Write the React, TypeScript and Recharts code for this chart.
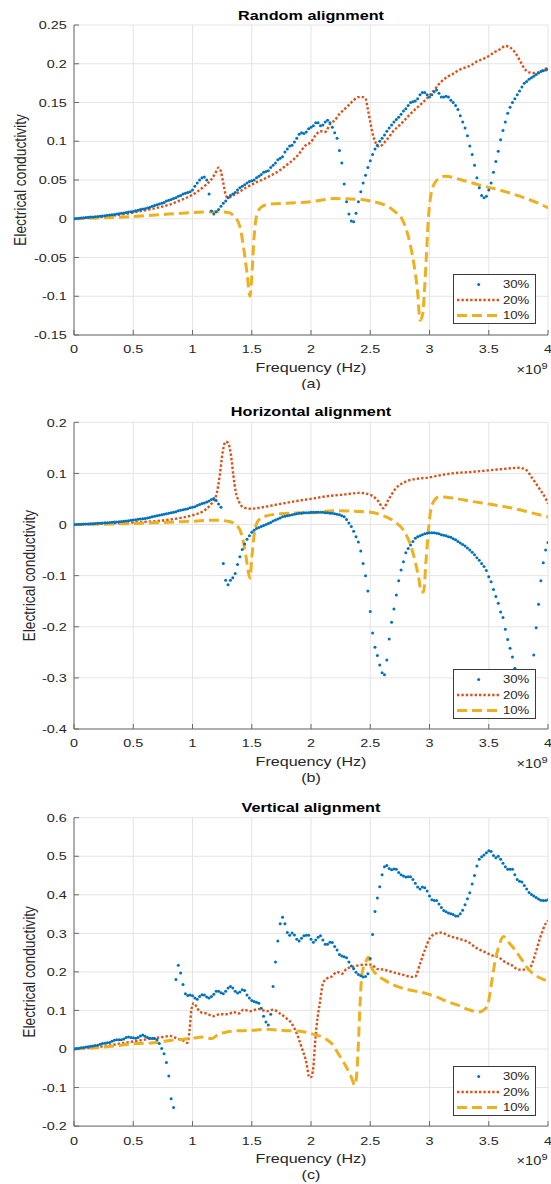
import React from 'react';
import { LineChart, Line, XAxis, YAxis, CartesianGrid, Legend } from 'recharts';

const FONT = '"Liberation Sans", Arial, Helvetica, sans-serif';
const BLUE = '#0072BD';
const ORANGE = '#D95319';
const YELLOW = '#EDB120';
const SX = 1.22;

const FREQ = [
  0, 0.02, 0.04, 0.06, 0.08, 0.1, 0.12, 0.14, 0.16, 0.18,
  0.2, 0.22, 0.24, 0.26, 0.28, 0.3, 0.32, 0.34, 0.36, 0.38,
  0.4, 0.42, 0.44, 0.46, 0.48, 0.5, 0.52, 0.54, 0.56, 0.58,
  0.6, 0.62, 0.64, 0.66, 0.68, 0.7, 0.72, 0.74, 0.76, 0.78,
  0.8, 0.82, 0.84, 0.86, 0.88, 0.9, 0.92, 0.94, 0.96, 0.98,
  1, 1.02, 1.04, 1.06, 1.08, 1.1, 1.12, 1.14, 1.16, 1.18,
  1.2, 1.22, 1.24, 1.26, 1.28, 1.3, 1.32, 1.34, 1.36, 1.38,
  1.4, 1.42, 1.44, 1.46, 1.48, 1.5, 1.52, 1.54, 1.56, 1.58,
  1.6, 1.62, 1.64, 1.66, 1.68, 1.7, 1.72, 1.74, 1.76, 1.78,
  1.8, 1.82, 1.84, 1.86, 1.88, 1.9, 1.92, 1.94, 1.96, 1.98,
  2, 2.02, 2.04, 2.06, 2.08, 2.1, 2.12, 2.14, 2.16, 2.18,
  2.2, 2.22, 2.24, 2.26, 2.28, 2.3, 2.32, 2.34, 2.36, 2.38,
  2.4, 2.42, 2.44, 2.46, 2.48, 2.5, 2.52, 2.54, 2.56, 2.58,
  2.6, 2.62, 2.64, 2.66, 2.68, 2.7, 2.72, 2.74, 2.76, 2.78,
  2.8, 2.82, 2.84, 2.86, 2.88, 2.9, 2.92, 2.94, 2.96, 2.98,
  3, 3.02, 3.04, 3.06, 3.08, 3.1, 3.12, 3.14, 3.16, 3.18,
  3.2, 3.22, 3.24, 3.26, 3.28, 3.3, 3.32, 3.34, 3.36, 3.38,
  3.4, 3.42, 3.44, 3.46, 3.48, 3.5, 3.52, 3.54, 3.56, 3.58,
  3.6, 3.62, 3.64, 3.66, 3.68, 3.7, 3.72, 3.74, 3.76, 3.78,
  3.8, 3.82, 3.84, 3.86, 3.88, 3.9, 3.92, 3.94, 3.96, 3.98,
  4,
];

const X_TICKS = [0, 0.5, 1, 1.5, 2, 2.5, 3, 3.5, 4];
const Y_TICKS_A = [-0.15, -0.1, -0.05, 0, 0.05, 0.1, 0.15, 0.2, 0.25];
const Y_TICKS_B = [-0.4, -0.3, -0.2, -0.1, 0, 0.1, 0.2];
const Y_TICKS_C = [-0.2, -0.1, 0, 0.1, 0.2, 0.3, 0.4, 0.5, 0.6];
const SERIES_NAMES = ['30%', '20%', '10%'];

// ---------- (a) Random alignment ----------
const A30 = [
  0, 0.0003, 0.0006, 0.0009, 0.0012, 0.0015, 0.0018, 0.0021, 0.0024, 0.0027,
  0.003, 0.0033, 0.0037, 0.004, 0.0044, 0.0048, 0.0052, 0.0056, 0.006, 0.0065,
  0.007, 0.0075, 0.008, 0.0086, 0.009, 0.0095, 0.0102, 0.011, 0.0118, 0.0125,
  0.013, 0.014, 0.015, 0.016, 0.017, 0.018, 0.019, 0.02, 0.021, 0.023,
  0.024, 0.025, 0.026, 0.027, 0.029, 0.03, 0.032, 0.033, 0.034, 0.035,
  0.037, 0.042, 0.046, 0.05, 0.053, 0.054, 0.05, 0.032, 0.01, 0.006,
  0.009, 0.012, 0.016, 0.02, 0.023, 0.027, 0.03, 0.032, 0.034, 0.037,
  0.04, 0.042, 0.044, 0.046, 0.048, 0.049, 0.05, 0.053, 0.055, 0.057,
  0.06, 0.061, 0.062, 0.066, 0.069, 0.072, 0.076, 0.078, 0.08, 0.086,
  0.09, 0.094, 0.095, 0.099, 0.104, 0.109, 0.111, 0.11, 0.112, 0.116,
  0.118, 0.12, 0.124, 0.124, 0.12, 0.121, 0.125, 0.127, 0.124, 0.118,
  0.111, 0.104, 0.088, 0.072, 0.045, 0.022, 0.006, -0.003, -0.004, 0.007,
  0.022, 0.035, 0.046, 0.056, 0.066, 0.075, 0.083, 0.09, 0.095, 0.1,
  0.104, 0.108, 0.113, 0.117, 0.121, 0.125, 0.128, 0.131, 0.135, 0.139,
  0.142, 0.146, 0.15, 0.151, 0.152, 0.155, 0.16, 0.163, 0.163, 0.16,
  0.157, 0.16, 0.164, 0.166, 0.162, 0.157, 0.157, 0.158, 0.157, 0.153,
  0.15, 0.146, 0.141, 0.133, 0.125, 0.117, 0.107, 0.094, 0.083, 0.069,
  0.053, 0.04, 0.03, 0.027, 0.029, 0.037, 0.046, 0.06, 0.074, 0.087,
  0.102, 0.114, 0.125, 0.136, 0.144, 0.15, 0.155, 0.16, 0.165, 0.17,
  0.175, 0.177, 0.18, 0.182, 0.184, 0.186, 0.188, 0.19, 0.191, 0.192,
  0.193,
];
const A20_F = [
  0, 0.1, 0.2, 0.3, 0.4, 0.5, 0.6, 0.7, 0.8, 0.9, 1, 1.05, 1.1, 1.15, 1.19, 1.22, 1.24, 1.26,
  1.28, 1.3, 1.34, 1.4, 1.45, 1.5, 1.55, 1.6, 1.65, 1.7, 1.75, 1.8, 1.85, 1.9, 1.95, 2,
  2.04, 2.08, 2.12, 2.16, 2.2, 2.24, 2.28, 2.32, 2.36, 2.4, 2.44, 2.46, 2.48, 2.5, 2.52,
  2.54, 2.56, 2.58, 2.61, 2.65, 2.7, 2.75, 2.8, 2.85, 2.9, 2.95, 3, 3.05, 3.1, 3.15, 3.2,
  3.25, 3.3, 3.35, 3.4, 3.45, 3.5, 3.55, 3.6, 3.64, 3.68, 3.72, 3.76, 3.8, 3.84, 3.88,
  3.92, 3.96, 4,
];
const A20_V = [
  0, 0.0008, 0.002, 0.0035, 0.0055, 0.008, 0.011, 0.014, 0.018, 0.024, 0.031, 0.036, 0.042,
  0.049, 0.058, 0.066, 0.061, 0.046, 0.031, 0.027, 0.03, 0.035, 0.04, 0.044, 0.048, 0.051,
  0.055, 0.059, 0.064, 0.07, 0.076, 0.084, 0.094, 0.099, 0.108, 0.113, 0.112, 0.122, 0.127,
  0.135, 0.141, 0.147, 0.153, 0.157, 0.157, 0.155, 0.141, 0.125, 0.11, 0.1, 0.094, 0.093,
  0.097, 0.104, 0.114, 0.121, 0.129, 0.137, 0.144, 0.151, 0.159, 0.168, 0.177, 0.183, 0.187,
  0.192, 0.195, 0.198, 0.203, 0.206, 0.21, 0.215, 0.219, 0.223, 0.221, 0.215, 0.205, 0.194,
  0.189, 0.188, 0.189, 0.192, 0.195,
];
const A10_F = [
  0, 0.2, 0.4, 0.6, 0.8, 1, 1.2, 1.3, 1.34, 1.37, 1.4, 1.43, 1.46, 1.485, 1.5, 1.52, 1.54,
  1.58, 1.65, 1.8, 2, 2.2, 2.4, 2.5, 2.6, 2.66, 2.71, 2.76, 2.8, 2.84, 2.87, 2.9, 2.92,
  2.94, 2.96, 2.975, 2.99, 3.01, 3.04, 3.08, 3.13, 3.25, 3.41, 3.64, 3.8, 3.92, 4,
];
const A10_V = [
  0, 0.001, 0.002, 0.004, 0.006, 0.008, 0.009, 0.008, 0.005, 0, -0.01, -0.036, -0.07, -0.1,
  -0.075, -0.023, 0.003, 0.015, 0.019, 0.02, 0.022, 0.026, 0.025, 0.023, 0.019, 0.015, 0.009,
  0.002, -0.012, -0.035, -0.06, -0.095, -0.131, -0.125, -0.087, -0.044, -0.001, 0.029, 0.045,
  0.052, 0.055, 0.051, 0.044, 0.035, 0.027, 0.02, 0.014,
];

// ---------- (b) Horizontal alignment ----------
const B30 = [
  0, 0.0002, 0.0004, 0.0006, 0.0008, 0.001, 0.0012, 0.0014, 0.0017, 0.002,
  0.0023, 0.0026, 0.003, 0.0033, 0.0037, 0.004, 0.0044, 0.0048, 0.0052, 0.0056,
  0.006, 0.0065, 0.007, 0.0076, 0.0083, 0.009, 0.0096, 0.0102, 0.0108, 0.0114,
  0.012, 0.013, 0.014, 0.015, 0.016, 0.017, 0.018, 0.019, 0.02, 0.021,
  0.022, 0.023, 0.024, 0.025, 0.027, 0.028, 0.029, 0.03, 0.031, 0.033,
  0.034, 0.035, 0.037, 0.039, 0.041, 0.042, 0.044, 0.046, 0.049, 0.051,
  0.047, 0.04, 0.034, -0.076, -0.109, -0.118, -0.109, -0.104, -0.096, -0.078,
  -0.063, -0.049, -0.038, -0.029, -0.022, -0.015, -0.011, -0.008, -0.006, -0.004,
  -0.002, 0, 0.002, 0.004, 0.007, 0.009, 0.011, 0.013, 0.015, 0.016,
  0.017, 0.018, 0.019, 0.02, 0.021, 0.022, 0.022, 0.023, 0.023, 0.023,
  0.024, 0.024, 0.024, 0.024, 0.024, 0.024, 0.023, 0.023, 0.022, 0.022,
  0.021, 0.02, 0.019, 0.017, 0.015, 0.01, 0.003, -0.004, -0.013, -0.024,
  -0.034, -0.052, -0.076, -0.1, -0.13, -0.17, -0.212, -0.24, -0.256, -0.275,
  -0.29, -0.294, -0.265, -0.224, -0.191, -0.165, -0.138, -0.11, -0.089, -0.073,
  -0.055, -0.047, -0.04, -0.033, -0.027, -0.024, -0.022, -0.02, -0.018, -0.017,
  -0.016, -0.016, -0.016, -0.017, -0.018, -0.02, -0.021, -0.022, -0.024, -0.025,
  -0.028, -0.03, -0.033, -0.036, -0.039, -0.042, -0.046, -0.05, -0.054, -0.059,
  -0.065, -0.07, -0.076, -0.082, -0.09, -0.102, -0.112, -0.127, -0.141, -0.154,
  -0.171, -0.182, -0.205, -0.225, -0.242, -0.259, -0.281, -0.3, -0.32, -0.338,
  -0.35, -0.345, -0.32, -0.285, -0.255, -0.202, -0.156, -0.11, -0.075, -0.05,
  -0.035,
];
const B20_F = [
  0, 0.25, 0.5, 0.75, 0.9, 1, 1.09, 1.15, 1.2, 1.23, 1.255, 1.28, 1.3, 1.325, 1.345, 1.365,
  1.39, 1.415, 1.45, 1.49, 1.57, 1.71, 1.88, 2.02, 2.12, 2.29, 2.41, 2.51, 2.57, 2.61, 2.65,
  2.71, 2.79, 2.91, 2.99, 3.08, 3.19, 3.36, 3.5, 3.64, 3.75, 3.82, 3.86, 3.92, 3.98, 4,
];
const B20_V = [
  0, 0.002, 0.004, 0.008, 0.013, 0.018, 0.026, 0.038, 0.057, 0.096, 0.142, 0.162, 0.16,
  0.135, 0.096, 0.064, 0.046, 0.036, 0.032, 0.031, 0.033, 0.039, 0.046, 0.051, 0.055, 0.059,
  0.062, 0.057, 0.045, 0.032, 0.047, 0.069, 0.083, 0.09, 0.092, 0.096, 0.1, 0.103, 0.106,
  0.109, 0.111, 0.106, 0.093, 0.073, 0.051, 0.041,
];
const B10_F = [
  0, 0.5, 1, 1.2, 1.3, 1.37, 1.415, 1.45, 1.47, 1.485, 1.5, 1.52, 1.555, 1.626, 1.74, 1.935,
  2, 2.2, 2.46, 2.6, 2.71, 2.78, 2.84, 2.88, 2.91, 2.93, 2.95, 2.97, 2.99, 3.02, 3.08, 3.19,
  3.36, 3.53, 3.7, 3.86, 4,
];
const B10_V = [
  0, 0.002, 0.0065, 0.0085, 0.0065, -0.001, -0.02, -0.06, -0.092, -0.105, -0.066, -0.021,
  0.008, 0.017, 0.021, 0.023, 0.023, 0.027, 0.025, 0.018, 0.005, -0.011, -0.04, -0.073,
  -0.105, -0.132, -0.132, -0.073, -0.014, 0.038, 0.054, 0.052, 0.045, 0.039, 0.032, 0.023,
  0.015,
];

// ---------- (c) Vertical alignment ----------
const C30 = [
  0, 0.001, 0.002, 0.003, 0.004, 0.005, 0.006, 0.007, 0.008, 0.009,
  0.01, 0.012, 0.014, 0.015, 0.016, 0.017, 0.02, 0.023, 0.024, 0.024,
  0.024, 0.026, 0.03, 0.031, 0.03, 0.029, 0.028, 0.03, 0.034, 0.036,
  0.033, 0.03, 0.028, 0.027, 0.027, 0.024, 0.014, 0.001, -0.012, -0.035,
  -0.07, -0.129, -0.152, 0.18, 0.217, 0.197, 0.167, 0.143, 0.139, 0.14,
  0.138, 0.132, 0.129, 0.136, 0.141, 0.14, 0.135, 0.132, 0.136, 0.142,
  0.15, 0.15, 0.146, 0.143, 0.15, 0.158, 0.162, 0.158, 0.15, 0.145,
  0.148, 0.154, 0.152, 0.14, 0.132, 0.126, 0.123, 0.121, 0.119, 0.106,
  0.085, 0.07, 0.062, 0.09, 0.162, 0.226, 0.28, 0.325, 0.342, 0.325,
  0.302, 0.295, 0.301, 0.296, 0.285, 0.28, 0.287, 0.294, 0.295, 0.295,
  0.285, 0.277, 0.283, 0.29, 0.294, 0.283, 0.272, 0.272, 0.277, 0.276,
  0.266, 0.257, 0.245, 0.241, 0.239, 0.237, 0.226, 0.215, 0.208, 0.199,
  0.193, 0.19, 0.187, 0.188, 0.195, 0.235, 0.297, 0.357, 0.392, 0.421,
  0.452, 0.473, 0.476, 0.468, 0.465, 0.467, 0.466, 0.458, 0.452, 0.449,
  0.446, 0.447, 0.447, 0.44, 0.43, 0.42, 0.415, 0.42, 0.418, 0.41,
  0.397, 0.387, 0.385, 0.385, 0.376, 0.367, 0.359, 0.356, 0.353, 0.351,
  0.349, 0.345, 0.345, 0.351, 0.36, 0.374, 0.39, 0.405, 0.428, 0.45,
  0.475, 0.492, 0.499, 0.503, 0.509, 0.514, 0.512, 0.502, 0.496, 0.5,
  0.492, 0.482, 0.473, 0.466, 0.466, 0.466, 0.452, 0.44, 0.435, 0.433,
  0.424, 0.415, 0.406, 0.401, 0.397, 0.393, 0.389, 0.386, 0.385, 0.385,
  0.387,
];
const C20_F = [
  0, 0.25, 0.39, 0.53, 0.67, 0.75, 0.81, 0.87, 0.92, 0.955, 0.975, 0.99, 1.01, 1.035, 1.063,
  1.12, 1.175, 1.23, 1.3, 1.345, 1.387, 1.43, 1.485, 1.556, 1.626, 1.68, 1.738, 1.795, 1.837,
  1.88, 1.92, 1.963, 1.985, 2, 2.02, 2.034, 2.056, 2.076, 2.1, 2.13, 2.175, 2.22, 2.26, 2.3,
  2.34, 2.4, 2.456, 2.51, 2.555, 2.61, 2.68, 2.77, 2.85, 2.88, 2.92, 2.96, 3, 3.05, 3.1, 3.16,
  3.245, 3.33, 3.386, 3.47, 3.527, 3.583, 3.64, 3.696, 3.75, 3.81, 3.85, 3.893, 3.935, 3.98, 4,
];
const C20_V = [
  0, 0.007, 0.014, 0.021, 0.028, 0.031, 0.034, 0.027, 0.022, 0.016, 0.048, 0.1, 0.119, 0.109,
  0.096, 0.092, 0.085, 0.09, 0.09, 0.096, 0.092, 0.102, 0.098, 0.104, 0.098, 0.102, 0.092,
  0.079, 0.066, 0.04, 0.005, -0.038, -0.073, -0.073, -0.047, 0.014, 0.083, 0.122, 0.169,
  0.182, 0.188, 0.2, 0.195, 0.208, 0.212, 0.217, 0.219, 0.219, 0.208, 0.206, 0.2, 0.193,
  0.187, 0.188, 0.221, 0.256, 0.286, 0.299, 0.302, 0.294, 0.286, 0.277, 0.264, 0.251, 0.243,
  0.238, 0.225, 0.217, 0.206, 0.206, 0.212, 0.247, 0.29, 0.325, 0.333,
];
const C10_F = [
  0, 0.25, 0.53, 0.67, 0.81, 0.98, 1.09, 1.16, 1.22, 1.29, 1.37, 1.485, 1.626, 1.77, 1.935,
  2, 2.06, 2.12, 2.175, 2.23, 2.29, 2.34, 2.37, 2.386, 2.4, 2.414, 2.43, 2.456, 2.485, 2.51,
  2.555, 2.625, 2.738, 2.85, 2.96, 3.06, 3.16, 3.245, 3.33, 3.414, 3.47, 3.5, 3.527, 3.555,
  3.583, 3.625, 3.667, 3.724, 3.78, 3.837, 3.893, 3.95, 4,
];
const C10_V = [
  0, 0.005, 0.014, 0.016, 0.022, 0.027, 0.031, 0.027, 0.038, 0.044, 0.047, 0.048, 0.051,
  0.048, 0.045, 0.04, 0.035, 0.027, 0.014, -0.012, -0.042, -0.073, -0.094, -0.064, 0.014,
  0.117, 0.195, 0.221, 0.238, 0.212, 0.193, 0.178, 0.161, 0.152, 0.145, 0.135, 0.122, 0.113,
  0.102, 0.096, 0.104, 0.126, 0.178, 0.23, 0.264, 0.292, 0.277, 0.256, 0.231, 0.206, 0.191,
  0.182, 0.176,
];

const pts = (fs: number[], vs: number[]) => fs.map((f, i) => ({ f, v: vs[i] }));

const XTick = (props: any) => {
  const { x, y, payload } = props;
  return (
    <g transform={`translate(${x},${y + 18.4}) scale(${SX},1)`}>
      <text x={0} y={0} textAnchor="middle" fontFamily={FONT} fontSize={11.8} fill="#262626">
        {String(payload.value)}
      </text>
    </g>
  );
};

const YTick = (props: any) => {
  const { x, y, payload } = props;
  return (
    <g transform={`translate(${x - 7.3},${y + 4.2}) scale(${SX},1)`}>
      <text x={0} y={0} textAnchor="end" fontFamily={FONT} fontSize={11.8} fill="#262626">
        {String(payload.value)}
      </text>
    </g>
  );
};

const NoTick = () => <g />;

const LegendBox = () => (
  <div
    style={{
      width: 83,
      height: 50,
      boxSizing: 'border-box',
      border: '1px solid #3a3a3a',
      background: '#fff',
    }}
  >
    <svg width={81} height={48} style={{ display: 'block' }}>
      <circle cx={24.7} cy={9.5} r={1.5} fill={BLUE} />
      <line x1={3} x2={46} y1={25} y2={25} stroke={ORANGE} strokeWidth={2.4} strokeDasharray="2.4 2" />
      <line x1={3} x2={46} y1={40.5} y2={40.5} stroke={YELLOW} strokeWidth={3} strokeDasharray="10 5" />
      {SERIES_NAMES.map((n, i) => (
        <g key={n} transform={`translate(75.3,${13.3 + i * 15.5}) scale(${SX},1)`}>
          <text x={0} y={0} textAnchor="end" fontFamily={FONT} fontSize={10.8} fill="#262626">
            {n}
          </text>
        </g>
      ))}
    </svg>
  </div>
);

type PanelCfg = {
  top: number;
  height: number;
  plotTop: number;
  plotBottom: number;
  yDomain: [number, number];
  yTicks: number[];
  s30: { f: number; v: number }[];
  s20: { f: number; v: number }[];
  s10: { f: number; v: number }[];
  title: string;
  titleY: number;
  tag: string;
  ylabelX: number;
  legendTop: number;
};

const AXIS = '#6a6a6a';

function Panel({ cfg }: { cfg: PanelCfg }) {
  const { top, height, plotTop, plotBottom, yDomain, yTicks, s30, s20, s10, title, titleY, tag, ylabelX, legendTop } = cfg;
  const midY = (plotTop + plotBottom) / 2;
  return (
    <div style={{ position: 'absolute', left: 0, top, width: 551, height }}>
      <LineChart width={551} height={height} margin={{ top: plotTop, right: 3, bottom: 0, left: 0 }}>
        <CartesianGrid stroke="#e4e4e4" strokeWidth={1} />
        <XAxis
          xAxisId={0}
          type="number"
          dataKey="f"
          domain={[0, 4]}
          ticks={X_TICKS}
          interval={0}
          height={height - plotBottom}
          tickSize={-5}
          tickMargin={5}
          tick={<XTick />}
          stroke={AXIS}
          allowDataOverflow
        />
        <XAxis
          xAxisId="top"
          orientation="top"
          type="number"
          dataKey="f"
          domain={[0, 4]}
          ticks={X_TICKS}
          interval={0}
          height={0}
          tickSize={-5}
          tickMargin={0}
          tick={<NoTick />}
          stroke={AXIS}
          allowDataOverflow
        />
        <YAxis
          yAxisId={0}
          type="number"
          domain={yDomain}
          ticks={yTicks}
          interval={0}
          width={74}
          tickSize={-5}
          tickMargin={5}
          tick={<YTick />}
          stroke={AXIS}
          allowDataOverflow
        />
        <YAxis
          yAxisId="right"
          orientation="right"
          type="number"
          domain={yDomain}
          ticks={yTicks}
          interval={0}
          width={0}
          tickSize={-5}
          tickMargin={0}
          tick={<NoTick />}
          stroke={AXIS}
          allowDataOverflow
        />
        <Line
          data={s30}
          dataKey="v"
          name="30%"
          type="linear"
          stroke="none"
          strokeWidth={0}
          dot={{ r: 1.5, fill: BLUE, stroke: 'none', strokeWidth: 0 }}
          activeDot={false}
          isAnimationActive={false}
        />
        <Line
          data={s20}
          dataKey="v"
          name="20%"
          type="monotone"
          stroke={ORANGE}
          strokeWidth={2.4}
          strokeDasharray="2.4 2"
          dot={false}
          activeDot={false}
          isAnimationActive={false}
        />
        <Line
          data={s10}
          dataKey="v"
          name="10%"
          type="monotone"
          stroke={YELLOW}
          strokeWidth={3}
          strokeDasharray="10 5"
          dot={false}
          activeDot={false}
          isAnimationActive={false}
        />
        <Legend
          layout="horizontal"
          verticalAlign="middle"
          align="center"
          width={83}
          height={50}
          wrapperStyle={{ left: 453, top: legendTop, width: 83, height: 50 }}
          content={() => <LegendBox />}
        />
      </LineChart>
      <svg
        width={551}
        height={height}
        style={{ position: 'absolute', left: 0, top: 0, pointerEvents: 'none' }}
      >
        <g transform={`translate(311,${titleY}) scale(${SX},1)`}>
          <text x={0} y={0} textAnchor="middle" fontFamily={FONT} fontWeight="bold" fontSize={13.3} fill="#000">
            {title}
          </text>
        </g>
        <g transform={`translate(${ylabelX},${midY}) rotate(-90) scale(1,${SX})`}>
          <text x={0} y={0} textAnchor="middle" fontFamily={FONT} fontSize={13.8} fill="#262626">
            Electrical conductivity
          </text>
        </g>
        <g transform={`translate(311,${plotBottom + 36.5}) scale(${SX},1)`}>
          <text x={0} y={0} textAnchor="middle" fontFamily={FONT} fontSize={13.2} fill="#262626">
            Frequency (Hz)
          </text>
        </g>
        <g transform={`translate(311,${plotBottom + 52.5}) scale(${SX},1)`}>
          <text x={0} y={0} textAnchor="middle" fontFamily={FONT} fontSize={13.2} fill="#262626">
            {tag}
          </text>
        </g>
        <g transform={`translate(547.5,${plotBottom + 38.5}) scale(${SX},1)`}>
          <text x={0} y={0} textAnchor="end" fontFamily={FONT} fontSize={12} fill="#262626">
            ×10
            <tspan dy={-5} fontSize={9}>
              9
            </tspan>
          </text>
        </g>
      </svg>
    </div>
  );
}

const PANELS: PanelCfg[] = [
  {
    top: 0,
    height: 390,
    plotTop: 25,
    plotBottom: 335,
    yDomain: [-0.15, 0.25],
    yTicks: Y_TICKS_A,
    s30: pts(FREQ, A30),
    s20: pts(A20_F, A20_V),
    s10: pts(A10_F, A10_V),
    title: 'Random alignment',
    titleY: 19.5,
    tag: '(a)',
    ylabelX: 26,
    legendTop: 274,
  },
  {
    top: 390,
    height: 395,
    plotTop: 32.3,
    plotBottom: 339,
    yDomain: [-0.4, 0.2],
    yTicks: Y_TICKS_B,
    s30: pts(FREQ, B30),
    s20: pts(B20_F, B20_V),
    s10: pts(B10_F, B10_V),
    title: 'Horizontal alignment',
    titleY: 26,
    tag: '(b)',
    ylabelX: 35,
    legendTop: 279,
  },
  {
    top: 785,
    height: 399,
    plotTop: 32.7,
    plotBottom: 341.1,
    yDomain: [-0.2, 0.6],
    yTicks: Y_TICKS_C,
    s30: pts(FREQ, C30),
    s20: pts(C20_F, C20_V),
    s10: pts(C10_F, C10_V),
    title: 'Vertical alignment',
    titleY: 26.7,
    tag: '(c)',
    ylabelX: 35,
    legendTop: 280.7,
  },
];

export default function App() {
  return (
    <div style={{ position: 'absolute', left: 0, top: 0, width: 551, height: 1184, background: '#fff', overflow: 'hidden' }}>
      {PANELS.map((p) => (
        <Panel key={p.title} cfg={p} />
      ))}
    </div>
  );
}
